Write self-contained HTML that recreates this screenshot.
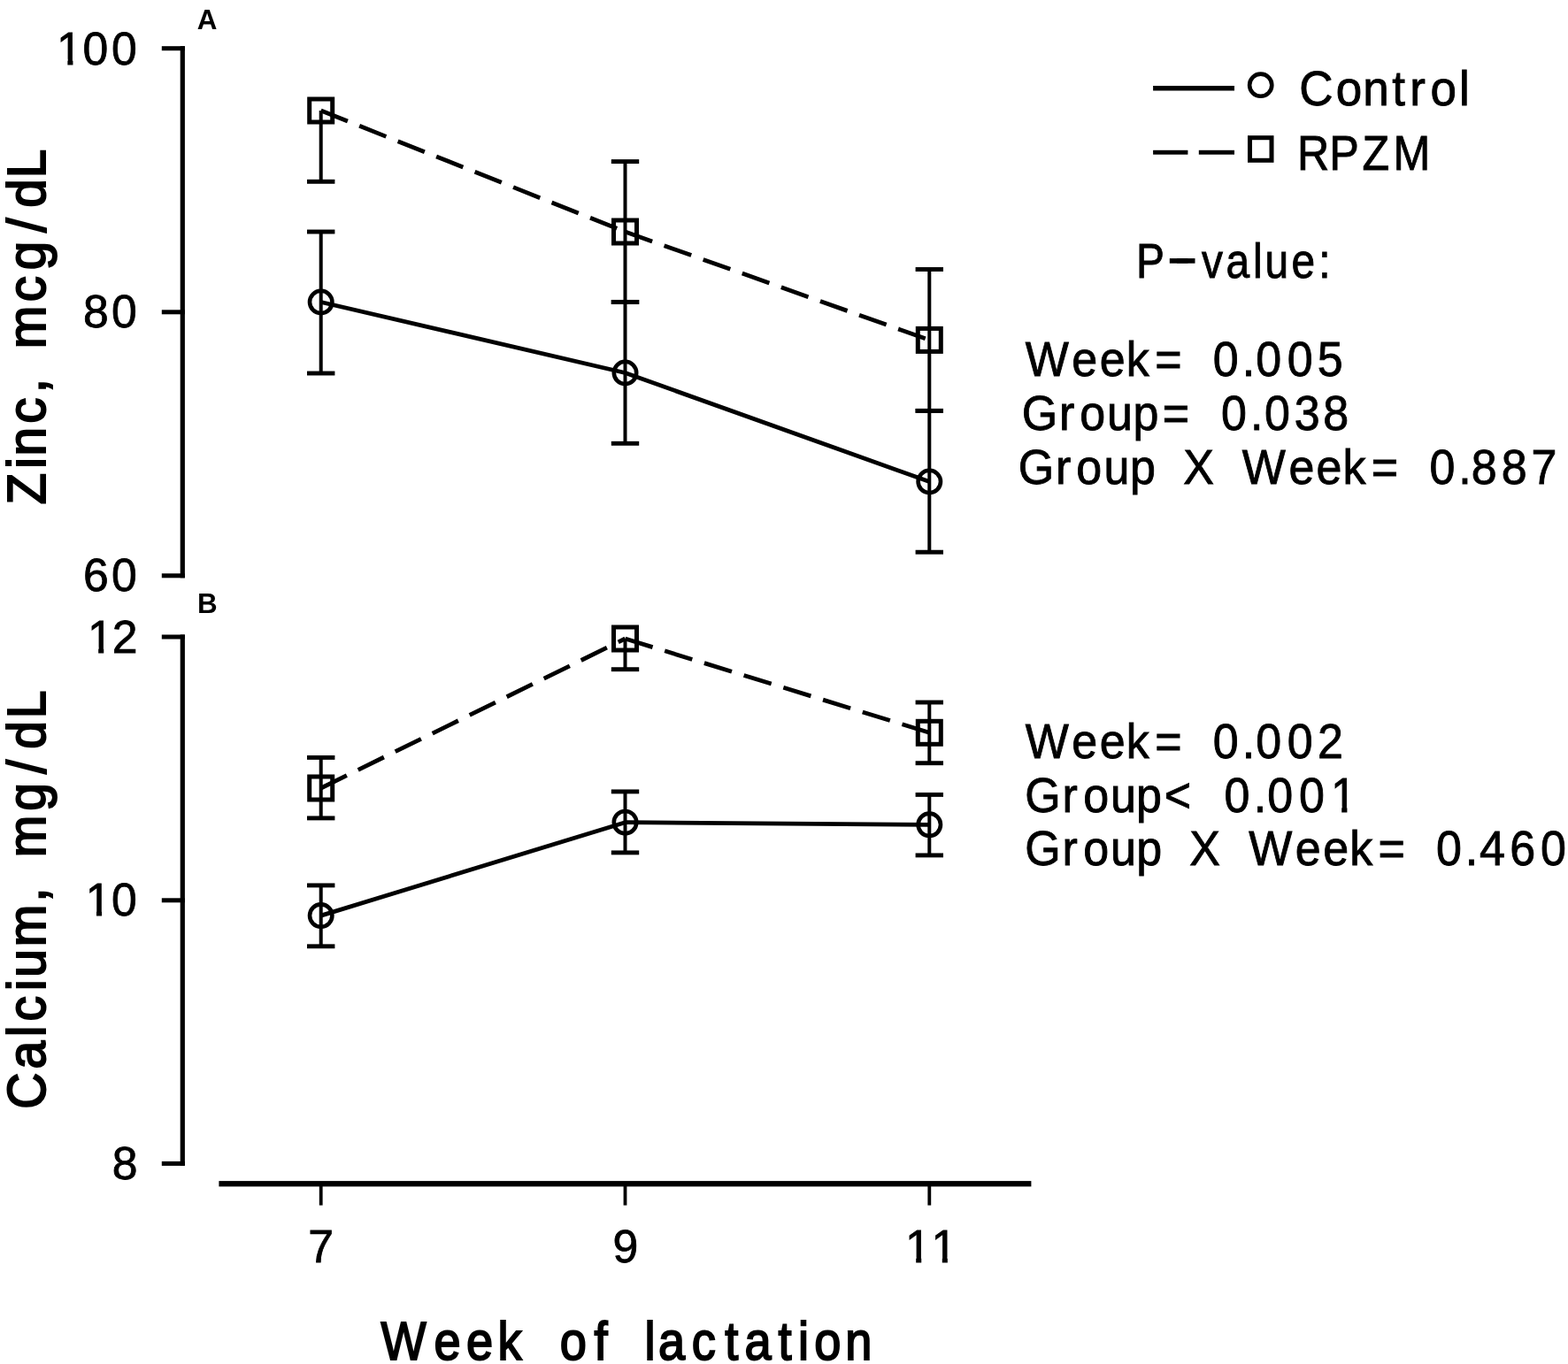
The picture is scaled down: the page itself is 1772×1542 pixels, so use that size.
<!DOCTYPE html><html><head><meta charset="utf-8"><title>Zinc and Calcium by Week of lactation</title>
<style>html,body{margin:0;padding:0;background:#fff;}svg{display:block;}text{font-family:"Liberation Sans",Arial,Helvetica,sans-serif;fill:#000;}</style></head><body>
<svg width="1772" height="1542" viewBox="0 0 1772 1542">
<rect width="1772" height="1542" fill="#fff"/>
<rect x="203.70" y="52.20" width="5.20" height="601.10"/>
<rect x="182.80" y="52.20" width="26.10" height="5.00"/>
<rect x="182.80" y="350.30" width="26.10" height="5.00"/>
<rect x="182.80" y="648.30" width="26.10" height="5.00"/>
<rect x="203.70" y="717.50" width="5.20" height="600.20"/>
<rect x="182.80" y="717.50" width="26.10" height="5.00"/>
<rect x="182.80" y="1015.30" width="26.10" height="5.00"/>
<rect x="182.80" y="1312.90" width="26.10" height="5.00"/>
<rect x="247.40" y="1335.10" width="918.00" height="6.30"/>
<rect x="360.80" y="1338.00" width="3.80" height="24.60"/>
<rect x="704.60" y="1338.00" width="3.80" height="24.60"/>
<rect x="1048.40" y="1338.00" width="3.80" height="24.60"/>
<rect x="360.70" y="262.00" width="4.00" height="160.00"/>
<rect x="347.00" y="259.55" width="31.40" height="4.90"/>
<rect x="347.00" y="419.55" width="31.40" height="4.90"/>
<rect x="704.50" y="341.50" width="4.00" height="159.80"/>
<rect x="690.80" y="339.05" width="31.40" height="4.90"/>
<rect x="690.80" y="498.85" width="31.40" height="4.90"/>
<rect x="1048.30" y="464.40" width="4.00" height="159.80"/>
<rect x="1034.60" y="461.95" width="31.40" height="4.90"/>
<rect x="1034.60" y="621.75" width="31.40" height="4.90"/>
<line x1="362.70" y1="341.50" x2="706.50" y2="421.50" stroke="#000" stroke-width="4.8"/>
<line x1="706.50" y1="421.50" x2="1050.30" y2="544.50" stroke="#000" stroke-width="4.8"/>
<circle cx="362.70" cy="341.50" r="12.7" fill="none" stroke="#000" stroke-width="4.6"/>
<circle cx="706.50" cy="421.50" r="12.7" fill="none" stroke="#000" stroke-width="4.6"/>
<circle cx="1050.30" cy="544.50" r="12.7" fill="none" stroke="#000" stroke-width="4.6"/>
<rect x="360.70" y="125.00" width="4.00" height="80.30"/>
<rect x="347.00" y="202.85" width="31.40" height="4.90"/>
<rect x="704.50" y="182.60" width="4.00" height="158.80"/>
<rect x="690.80" y="180.15" width="31.40" height="4.90"/>
<rect x="690.80" y="338.95" width="31.40" height="4.90"/>
<rect x="1048.30" y="304.50" width="4.00" height="159.90"/>
<rect x="1034.60" y="302.05" width="31.40" height="4.90"/>
<rect x="1034.60" y="461.95" width="31.40" height="4.90"/>
<line x1="362.70" y1="125.00" x2="706.50" y2="262.00" stroke="#000" stroke-width="4.8" stroke-dasharray="32.5 14.3"/>
<line x1="706.50" y1="262.00" x2="1050.30" y2="384.40" stroke="#000" stroke-width="4.8" stroke-dasharray="32.5 14.3"/>
<rect x="349.70" y="112.00" width="26" height="26" fill="none" stroke="#000" stroke-width="5"/>
<rect x="693.50" y="249.00" width="26" height="26" fill="none" stroke="#000" stroke-width="5"/>
<rect x="1037.30" y="371.40" width="26" height="26" fill="none" stroke="#000" stroke-width="5"/>
<rect x="360.70" y="1000.90" width="4.00" height="68.90"/>
<rect x="347.00" y="998.45" width="31.40" height="4.90"/>
<rect x="347.00" y="1067.35" width="31.40" height="4.90"/>
<rect x="704.50" y="894.90" width="4.00" height="69.00"/>
<rect x="690.80" y="892.45" width="31.40" height="4.90"/>
<rect x="690.80" y="961.45" width="31.40" height="4.90"/>
<rect x="1048.30" y="898.40" width="4.00" height="68.50"/>
<rect x="1034.60" y="895.95" width="31.40" height="4.90"/>
<rect x="1034.60" y="964.45" width="31.40" height="4.90"/>
<line x1="362.70" y1="1035.10" x2="706.50" y2="929.70" stroke="#000" stroke-width="4.8"/>
<line x1="706.50" y1="929.70" x2="1050.30" y2="932.30" stroke="#000" stroke-width="4.8"/>
<circle cx="362.70" cy="1035.10" r="12.7" fill="none" stroke="#000" stroke-width="4.6"/>
<circle cx="706.50" cy="929.70" r="12.7" fill="none" stroke="#000" stroke-width="4.6"/>
<circle cx="1050.30" cy="932.30" r="12.7" fill="none" stroke="#000" stroke-width="4.6"/>
<rect x="360.70" y="856.40" width="4.00" height="68.50"/>
<rect x="347.00" y="853.95" width="31.40" height="4.90"/>
<rect x="347.00" y="922.45" width="31.40" height="4.90"/>
<rect x="704.50" y="722.00" width="4.00" height="34.70"/>
<rect x="690.80" y="754.25" width="31.40" height="4.90"/>
<rect x="1048.30" y="794.00" width="4.00" height="68.70"/>
<rect x="1034.60" y="791.55" width="31.40" height="4.90"/>
<rect x="1034.60" y="860.25" width="31.40" height="4.90"/>
<line x1="362.70" y1="891.00" x2="706.50" y2="722.00" stroke="#000" stroke-width="4.8" stroke-dasharray="32.5 14.3"/>
<line x1="706.50" y1="722.00" x2="1050.30" y2="828.30" stroke="#000" stroke-width="4.8" stroke-dasharray="32.5 14.3"/>
<rect x="349.70" y="878.00" width="26" height="26" fill="none" stroke="#000" stroke-width="5"/>
<rect x="693.50" y="709.00" width="26" height="26" fill="none" stroke="#000" stroke-width="5"/>
<rect x="1037.30" y="815.30" width="26" height="26" fill="none" stroke="#000" stroke-width="5"/>
<rect x="1303.10" y="97.00" width="91.90" height="5.50"/>
<circle cx="1424.7" cy="96.2" r="12.6" fill="none" stroke="#000" stroke-width="4.6"/>
<rect x="1303.10" y="169.80" width="39.30" height="4.90"/>
<rect x="1354.80" y="169.80" width="40.20" height="4.90"/>
<rect x="1412.5" y="155.7" width="24.5" height="25.6" fill="none" stroke="#000" stroke-width="5"/>
<rect x="1321.80" y="292.10" width="28.70" height="5.60"/>
<text transform="scale(0.980 1)" x="227.24" y="33.10" font-size="32.00" font-weight="bold">A</text>
<text transform="translate(51.00 0) rotate(-90) scale(0.965 1)" x="-591.08 -549.19 -534.12 -496.03 -460.32 -443.51 -408.48 -353.54 -316.40 -272.34 -243.29 -208.56" y="0" font-size="60.50" stroke="#000" stroke-width="2.00">Zinc, mcg/dL</text>
<text transform="scale(0.995 1)" x="64.44 94.03 126.65" y="73.00" font-size="52.00" stroke="#000" stroke-width="0.80">100</text>
<text transform="scale(0.995 1)" x="94.43 126.60" y="370.20" font-size="52.00" stroke="#000" stroke-width="0.80">80</text>
<text transform="scale(0.995 1)" x="94.61 126.70" y="668.50" font-size="52.00" stroke="#000" stroke-width="0.80">60</text>
<text transform="scale(0.955 1)" x="1537.36 1580.95 1612.90 1647.47 1668.33 1692.68 1726.65" y="119.05" font-size="55.50" stroke="#000" stroke-width="0.90">Control</text>
<text transform="scale(0.905 1)" x="1619.85 1660.07 1701.05 1739.76" y="191.65" font-size="55.50" stroke="#000" stroke-width="0.90">RPZM</text>
<text transform="scale(0.870 1)" x="1475.79 1526.65 1561.02 1592.62 1627.61 1643.14 1677.46 1712.82" dy="0 -4.1 4.1" y="313.95" font-size="55.00" stroke="#000" stroke-width="0.90">P-value:</text>
<text transform="scale(0.945 1)" x="1226.19 1281.74 1315.18 1346.74 1381.10 1413.22 1450.58 1485.43 1501.95 1539.31 1575.45" y="424.75" font-size="55.00" stroke="#000" stroke-width="0.90">Week= 0.005</text>
<text transform="scale(0.945 1)" x="1221.87 1266.72 1291.21 1323.79 1355.09 1390.20 1422.32 1460.42 1495.27 1512.11 1547.78 1582.27" y="486.05" font-size="55.00" stroke="#000" stroke-width="0.90">Group= 0.038</text>
<text transform="scale(0.945 1)" x="1217.80 1262.33 1287.09 1320.04 1351.28 1381.87 1415.06 1451.74 1485.39 1541.21 1574.02 1605.89 1639.93 1672.05 1709.57 1744.26 1759.47 1795.50 1831.13" y="546.95" font-size="55.00" stroke="#000" stroke-width="0.90">Group X Week= 0.887</text>
<text transform="scale(0.980 1)" x="227.59" y="692.60" font-size="32.00" font-weight="bold">B</text>
<text transform="translate(50.90 0) rotate(-90) scale(0.942 1)" x="-1330.93 -1283.02 -1244.37 -1225.49 -1188.92 -1172.72 -1136.15 -1082.40 -1065.59 -1028.82 -973.26 -928.68 -898.89 -862.36" y="0" font-size="60.50" stroke="#000" stroke-width="2.00">Calcium, mg/dL</text>
<text transform="scale(0.995 1)" x="99.41 127.45" y="737.60" font-size="52.00" stroke="#000" stroke-width="0.80">12</text>
<text transform="scale(0.995 1)" x="97.20 126.70" y="1035.10" font-size="52.00" stroke="#000" stroke-width="0.80">10</text>
<text transform="scale(0.995 1)" x="127.35" y="1333.10" font-size="52.00" stroke="#000" stroke-width="0.80">8</text>
<text transform="scale(0.945 1)" x="1226.19 1281.74 1315.18 1346.74 1381.10 1413.22 1450.58 1485.43 1501.95 1539.31 1575.71" y="856.65" font-size="55.00" stroke="#000" stroke-width="0.90">Week= 0.002</text>
<text transform="scale(0.945 1)" x="1225.79 1270.27 1295.39 1327.97 1358.69 1392.23 1424.35 1464.02 1499.19 1515.66 1553.33 1591.47" y="917.75" font-size="55.00" stroke="#000" stroke-width="0.90">Group&lt; 0.001</text>
<text transform="scale(0.945 1)" x="1225.79 1270.27 1295.39 1327.97 1358.96 1389.54 1422.62 1459.31 1493.38 1548.94 1582.38 1613.99 1648.19 1680.31 1717.56 1752.20 1769.32 1805.68 1842.22" y="978.35" font-size="55.00" stroke="#000" stroke-width="0.90">Group X Week= 0.460</text>
<text transform="scale(0.995 1)" x="349.89" y="1427.40" font-size="52.00" stroke="#000" stroke-width="0.80">7</text>
<text transform="scale(0.995 1)" x="696.06" y="1426.60" font-size="52.00" stroke="#000" stroke-width="0.80">9</text>
<text transform="scale(0.995 1)" x="1028.06 1057.81" y="1427.40" font-size="52.00" stroke="#000" stroke-width="0.80">11</text>
<text transform="scale(0.888 1)" x="484.75 552.24 593.57 633.44 663.94 712.71 756.31 773.26 820.40 837.88 880.43 922.54 947.56 990.50 1015.65 1036.30 1075.67" y="1536.70" font-size="61.00" stroke="#000" stroke-width="2.00">Week of lactation</text>
<rect x="66.11" y="66.77" width="10.27" height="8.38" fill="#fff"/>
<rect x="82.45" y="66.77" width="9.87" height="8.38" fill="#fff"/>
<rect x="100.91" y="731.37" width="10.27" height="8.38" fill="#fff"/>
<rect x="117.25" y="731.37" width="9.87" height="8.38" fill="#fff"/>
<rect x="98.71" y="1028.87" width="10.27" height="8.38" fill="#fff"/>
<rect x="115.05" y="1028.87" width="9.87" height="8.38" fill="#fff"/>
<rect x="1024.91" y="1421.17" width="10.27" height="8.38" fill="#fff"/>
<rect x="1041.25" y="1421.17" width="9.87" height="8.38" fill="#fff"/>
<rect x="1054.51" y="1421.17" width="10.27" height="8.38" fill="#fff"/>
<rect x="1070.85" y="1421.17" width="9.87" height="8.38" fill="#fff"/>
<rect x="1505.90" y="911.24" width="10.31" height="8.71" fill="#fff"/>
<rect x="1522.40" y="911.24" width="9.90" height="8.71" fill="#fff"/>
</svg></body></html>
